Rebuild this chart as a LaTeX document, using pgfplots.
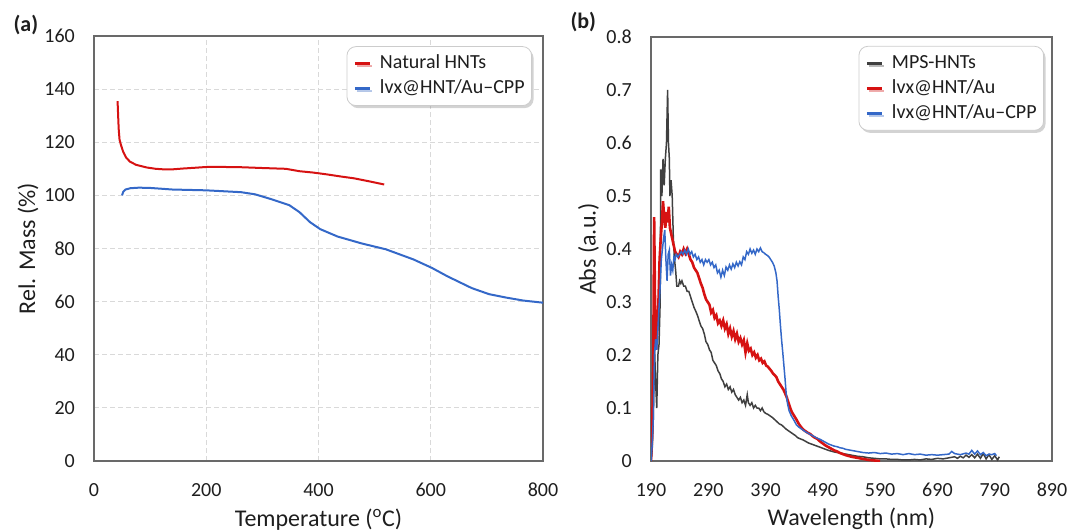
\documentclass[border=0pt]{standalone}
\usepackage{pgfplots}
\pgfplotsset{compat=1.18}
\usepackage{fontspec}
\setmainfont{Carlito}
\usetikzlibrary{shadows}
\definecolor{cred}{RGB}{214,18,18}
\definecolor{cblue}{RGB}{52,104,200}
\definecolor{cdark}{RGB}{64,64,64}
\definecolor{axgray}{RGB}{105,105,105}
\definecolor{txt}{RGB}{30,30,30}
\pgfplotsset{
  myaxis/.style={
    scale only axis,
    anchor=south west,
    axis line style={draw=axgray, line width=1.6pt},
    major tick length=0pt,
    tick style={draw=none},
    /pgf/number format/assume math mode=true,
    ticklabel style={font=\fontsize{20}{24}\selectfont, text=txt},
    xticklabel style={anchor=base, inner sep=0pt, yshift=-35pt},
    yticklabel style={anchor=east, inner sep=0pt, xshift=-19pt},
    label style={font=\fontsize{24}{28}\selectfont, text=txt},
    legend style={anchor=north east, draw=gray!40, line width=0.8pt,
      rounded corners=9pt,
      drop shadow={shadow xshift=2pt, shadow yshift=-2.5pt, opacity=0.35},
      font=\fontsize{20}{24}\selectfont, text=txt,
      inner xsep=5pt, inner ysep=4.5pt,
      nodes={inner sep=2pt, text height=15.5pt, text depth=5.5pt},
      cells={anchor=west}},
    legend image code/.code={%
      \pgfpathmoveto{\pgfpoint{-3pt}{0pt}}\pgfpathlineto{\pgfpoint{23pt}{0pt}}\pgfusepath{discard}%
      \draw[#1, line width=3.5pt] (0pt,0pt) -- (15pt,0pt);},
  }
}
\begin{document}
\begin{tikzpicture}[x=1pt,y=1pt]
\useasboundingbox (0,0) rectangle (1068,531);
% ---------------- panel (a) ----------------
\begin{axis}[myaxis,
  at={(94pt,70pt)}, width=449pt, height=425pt,
  xmin=0, xmax=800, ymin=0, ymax=160,
  xtick={0,200,...,800}, ytick={0,20,...,160},
  grid=major, grid style={dash pattern=on 5pt off 3pt, draw=gray!30, line width=0.8pt},
  xlabel={Temperature (\textsuperscript{o}C)}, ylabel={Rel. Mass (\%)},
  xlabel style={at={(axis description cs:0.5,-0.153)}, anchor=base},
  ylabel style={at={(axis description cs:-0.147,0.5)}, anchor=center, rotate=0},
  legend style={at={(0.9755,0.976)}},
]
\addplot[cred, line width=2pt] coordinates {
(42,135.5) (43,130) (44,125) (45.5,121) (48,119) (52,116.4) (57,114.3) (64,112.7)
(75,111.5) (94,110.5) (110,110.0) (124,109.8) (140,109.8) (158,110.1) (180,110.4)
(201,110.7) (230,110.7) (262,110.6) (300,110.3) (342,110.0) (366,109.1) (390,108.6)
(415,107.9) (440,107.1) (464,106.4) (490,105.3) (517,104.1)
};
\addlegendentry{Natural HNTs}
\addplot[cblue, line width=2pt] coordinates {
(50,100) (52,101.3) (56,102.2) (65,102.7) (80,102.9) (100,102.8) (140,102.2)
(200,101.9) (262,101.2) (287,100.4) (317,98.5) (348,96.3) (366,93.7) (385,89.9)
(403,87.3) (434,84.5) (477,81.9) (520,79.7) (569,75.9) (602,72.7) (630,69.5)
(673,65.1) (704,62.8) (735,61.5) (765,60.4) (800,59.6)
};
\addlegendentry{lvx@HNT/Au--CPP}
\end{axis}
% ---------------- panel (b) ----------------
\begin{axis}[myaxis,
  at={(651pt,70pt)}, width=401pt, height=424pt,
  xmin=190, xmax=890, ymin=0, ymax=0.8,
  xtick={190,290,...,890}, ytick={0,0.1,...,0.8},
  yticklabel style={/pgf/number format/fixed},
  xlabel={Wavelength (nm)}, ylabel={Abs (a.u.)},
  xlabel style={at={(axis description cs:0.5,-0.153)}, anchor=base},
  ylabel style={at={(axis description cs:-0.1556,0.5)}, anchor=center, rotate=0},
  legend style={at={(0.98,0.979)}},
]
\addplot[cdark, line width=1.5pt] coordinates {
(190,0) (192,0.02) (194,0.08) (196,0.22) (198,0.15) (200,0.10) (202,0.2) (204,0.22)
(206,0.3) (207,0.55) (209,0.5) (211,0.57) (213,0.52) (215,0.57) (217,0.6) (219,0.70)
(220.5,0.6) (222,0.57) (223,0.5) (225,0.53) (227,0.5) (229,0.42) (231,0.38) (233,0.36)
(235,0.33) (238,0.33) (240,0.34) (242,0.335) (244,0.34) (247,0.33) (250,0.33) (253,0.32)
(256,0.32) (259,0.31) (262,0.30) (265,0.29) (268,0.283) (271,0.275) (274,0.265)
(277,0.255) (280,0.25) (283,0.24) (286,0.225) (289,0.22) (292,0.21) (295,0.205)
(298,0.19) (301,0.185) (304,0.18) (307,0.17) (310,0.165) (313,0.155) (316,0.15)
(319,0.14) (322,0.145) (325,0.135) (328,0.14) (331,0.13) (334,0.135) (337,0.125)
(340,0.12) (343,0.115) (346,0.12) (349,0.11) (352,0.115) (355,0.105) (358,0.125)
(360,0.11) (363,0.105) (366,0.11) (369,0.1) (372,0.105) (375,0.1) (378,0.1)
(381,0.095) (384,0.1) (387,0.093) (390,0.09) (394,0.088) (398,0.085) (402,0.082)
(406,0.078) (410,0.074) (414,0.07) (418,0.068) (422,0.064) (426,0.06) (430,0.057)
(434,0.054) (438,0.051) (442,0.048) (446,0.044) (450,0.042) (455,0.04) (460,0.037)
(465,0.034) (470,0.032) (475,0.03) (480,0.028) (490,0.024) (500,0.02) (510,0.017)
(520,0.015) (530,0.013) (540,0.011) (550,0.009) (560,0.008) (570,0.006) (580,0.005)
(590,0.004) (600,0.004) (610,0.003) (620,0.003) (630,0.002) (640,0.002) (650,0.003)
(660,0.002) (670,0.004) (680,0.003) (690,0.005) (700,0.004) (710,0.006) (720,0.008)
(725,0.005) (730,0.009) (735,0.006) (740,0.011) (745,0.007) (750,0.012) (755,0.006)
(760,0.013) (765,0.005) (770,0.014) (775,0.004) (780,0.012) (785,0.003) (790,0.01)
(795,0.002) (798,0.008)
};
\addlegendentry{MPS-HNTs}
\addplot[cred, line width=2.6pt] coordinates {
(190,0) (192,0.05) (194,0.2) (195.5,0.46) (197,0.3) (199,0.21) (201,0.25) (203,0.3)
(205,0.38) (207,0.42) (209,0.45) (211,0.49) (213,0.46) (215,0.44) (217,0.47) (219,0.45)
(221,0.48) (223,0.44) (225,0.43) (227,0.42) (229,0.41) (232,0.395) (235,0.39)
(238,0.385) (241,0.395) (244,0.39) (247,0.4) (250,0.392) (253,0.4) (256,0.39)
(259,0.38) (262,0.375) (265,0.365) (268,0.36) (271,0.355) (274,0.345) (277,0.335)
(280,0.327) (283,0.315) (286,0.305) (289,0.3) (292,0.295) (295,0.28) (298,0.285)
(301,0.27) (304,0.275) (307,0.26) (310,0.265) (313,0.255) (316,0.265) (319,0.25)
(322,0.258) (325,0.24) (328,0.25) (331,0.235) (334,0.245) (337,0.23) (340,0.24)
(343,0.225) (346,0.232) (349,0.22) (352,0.228) (355,0.205) (358,0.222) (361,0.208)
(364,0.212) (367,0.2) (370,0.205) (373,0.195) (376,0.2) (379,0.19) (382,0.193)
(385,0.185) (388,0.188) (391,0.18) (394,0.178) (397,0.174) (400,0.17) (403,0.165)
(406,0.162) (409,0.158) (412,0.15) (415,0.145) (418,0.14) (421,0.135) (424,0.128)
(427,0.12) (430,0.11) (433,0.1) (436,0.092) (440,0.085) (444,0.078) (448,0.07)
(452,0.064) (456,0.059) (460,0.056) (464,0.053) (468,0.051) (472,0.047) (476,0.044)
(480,0.042) (485,0.037) (490,0.033) (495,0.029) (500,0.026) (505,0.023) (510,0.02)
(515,0.018) (520,0.015) (525,0.013) (530,0.011) (540,0.008) (550,0.006) (560,0.004)
(570,0.002) (580,0.001) (590,0)
};
\addlegendentry{lvx@HNT/Au}
\addplot[cblue, line width=1.5pt] coordinates {
(190,0) (192,0.03) (194,0.08) (196,0.2) (198,0.23) (200,0.21) (202,0.25) (204,0.29)
(206,0.33) (208,0.38) (210,0.4) (212,0.42) (214,0.436) (216,0.38) (218,0.34) (220,0.39)
(222,0.398) (224,0.35) (226,0.37) (228,0.36) (230,0.385) (232,0.38) (234,0.39)
(237,0.385) (240,0.39) (243,0.395) (246,0.39) (249,0.398) (252,0.39) (255,0.4)
(258,0.39) (261,0.395) (264,0.385) (267,0.39) (270,0.38) (273,0.385) (276,0.375)
(279,0.38) (282,0.37) (285,0.38) (288,0.375) (291,0.38) (294,0.37) (297,0.375)
(300,0.365) (303,0.37) (306,0.355) (309,0.36) (312,0.347) (315,0.36) (318,0.35)
(321,0.366) (324,0.36) (327,0.37) (330,0.362) (333,0.372) (336,0.365) (339,0.375)
(342,0.368) (345,0.376) (348,0.37) (351,0.385) (354,0.38) (357,0.395) (360,0.39)
(363,0.4) (366,0.392) (369,0.398) (372,0.39) (375,0.4) (378,0.395) (381,0.402)
(384,0.395) (387,0.393) (390,0.39) (393,0.388) (396,0.385) (399,0.38) (402,0.375)
(405,0.368) (408,0.355) (410,0.34) (412,0.31) (414,0.285) (416,0.255) (418,0.228)
(420,0.205) (422,0.18) (424,0.155) (426,0.127) (428,0.11) (431,0.095) (435,0.085)
(440,0.076) (444,0.068) (448,0.064) (452,0.061) (456,0.058) (460,0.055) (465,0.052)
(470,0.049) (475,0.046) (480,0.043) (485,0.041) (490,0.038) (495,0.035) (500,0.032)
(505,0.03) (510,0.028) (515,0.027) (520,0.025) (525,0.024) (530,0.022) (535,0.021)
(540,0.02) (545,0.019) (550,0.018) (555,0.017) (560,0.016) (570,0.015) (580,0.016)
(590,0.014) (600,0.015) (610,0.013) (620,0.014) (630,0.012) (640,0.014) (650,0.012)
(660,0.013) (670,0.011) (680,0.012) (690,0.011) (700,0.012) (710,0.013) (715,0.018)
(720,0.014) (730,0.012) (740,0.015) (745,0.013) (750,0.02) (755,0.013) (760,0.019)
(765,0.012) (770,0.016) (775,0.01) (780,0.013) (785,0.012) (790,0.014) (793,0.01)
};
\addlegendentry{lvx@HNT/Au--CPP}
\end{axis}
\node[anchor=base west, font=\fontsize{22}{26}\selectfont\bfseries, text=txt] at (10,499) {(a)};
\node[anchor=base west, font=\fontsize{22}{26}\selectfont\bfseries, text=txt] at (567,502) {(b)};
\end{tikzpicture}
\end{document}
